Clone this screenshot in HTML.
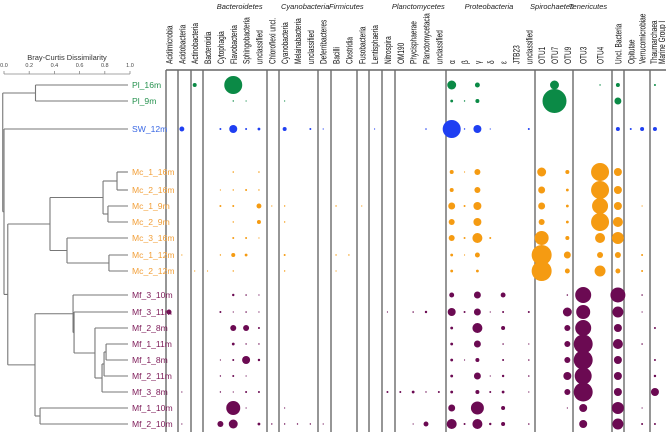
<!DOCTYPE html>
<html><head><meta charset="utf-8">
<style>
html,body{margin:0;padding:0;background:#fff;}
svg{display:block;font-family:"Liberation Sans",sans-serif;}
</style></head>
<body>
<svg id="chart" width="666" height="432" viewBox="0 0 666 432" xmlns="http://www.w3.org/2000/svg"></svg>
<script>
const columns = ["Acidimicrobia","Acidobacteria","Actinobacteria","Bacteroidia","Cytophagia","Flavobacteria","Sphingobacteria","unclassified","Chloroflexi uncl.","Cyanobacteria","Melainabacteria","unclassified","Deferribacteres","Bacilli","Clostridia","Fusobacteria","Lentisphaeria","Nitrospira","OM190","Phycisphaerae","Planctomycetacia","unclassified","α","β","γ","δ","ε","JTB23","unclassified","OTU1","OTU7","OTU9","OTU3","OTU4","Uncl. Bacteria","Opitutae","Verrucomicrobiae","Thaumarchaea"];
const phylumNames = ["Bacteroidetes","Cyanobacteria","Firmicutes","Planctomycetes","Proteobacteria","Spirochaetes","Tenericutes"];
const phylumCenterCol = [5.5,10.6,13.8,19.4,24.9,29.8,32.6];
const samples = ["Pl_16m","Pl_9m","SW_12m","Mc_1_16m","Mc_2_16m","Mc_1_9m","Mc_2_9m","Mc_3_16m","Mc_1_12m","Mc_2_12m","Mf_3_10m","Mf_3_11m","Mf_2_8m","Mf_1_11m","Mf_1_8m","Mf_2_11m","Mf_3_8m","Mf_1_10m","Mf_2_10m"];
const sampleGroup = [0,0,1,2,2,2,2,2,2,2,3,3,3,3,3,3,3,3,3];
const sampleRowY = [85,101,129,172,190,206,222,238,255,271,295,312,328,344,360,376,392,408,424];
const abundance = [
 [[2,4],[5,81],[22,20],[24,6],[30,20],[33,0.5],[34,4],[37,1]],
 [[5,0.5],[6,0.25],[9,0.25],[22,2],[23,0.5],[24,4],[30,144],[34,12]],
 [[1,6],[4,1],[5,16],[6,1],[7,2],[9,4],[11,1],[12,0.25],[16,0.25],[20,0.6],[22,81],[23,0.5],[24,16],[25,0.25],[28,1],[34,4],[35,1],[36,4],[37,4]],
 [[5,0.6],[7,0.6],[22,4],[23,0.2],[24,9],[29,20],[31,4],[33,81],[34,16]],
 [[4,0.25],[5,0.5],[6,1],[7,0.5],[22,4],[24,9],[29,12],[31,2],[33,81],[34,16]],
 [[4,1],[5,1],[7,6],[8,0.25],[9,0.5],[13,0.5],[15,0.25],[22,12],[23,1],[24,16],[29,12],[31,2],[33,64],[34,16],[36,0.3]],
 [[5,0.5],[7,4],[9,0.5],[22,9],[24,16],[29,9],[31,2],[33,81],[34,25]],
 [[5,1],[6,1],[7,0.25],[22,9],[23,1],[24,25],[25,1],[29,49],[31,4],[33,25],[34,36]],
 [[1,0.25],[4,0.5],[5,4],[6,2],[9,1],[13,0.5],[14,0.5],[22,2],[23,0.25],[24,6],[29,100],[31,12],[33,9],[34,9],[36,1]],
 [[2,0.25],[3,0.25],[5,0.5],[9,0.5],[13,0.25],[22,2],[24,2],[29,100],[31,6],[33,30],[34,6],[36,1]],
 [[5,1.5],[6,0.6],[7,0.25],[22,6],[24,12],[26,6],[31,0.6],[32,64],[34,56],[36,0.6]],
 [[0,6],[4,1],[5,0.25],[6,0.6],[7,0.25],[17,0.25],[19,0.6],[20,1.5],[22,16],[23,1],[24,12],[25,0.25],[26,1],[28,1],[31,20],[32,49],[34,30],[36,0.25]],
 [[5,9],[6,9],[7,1],[22,2],[24,25],[26,4],[31,9],[32,64],[34,16],[37,1]],
 [[5,2],[6,0.5],[7,0.5],[22,2],[24,12],[26,0.6],[28,0.25],[31,9],[32,90],[34,25],[36,0.6]],
 [[4,0.25],[5,1],[6,16],[7,1.5],[22,2],[23,0.25],[24,4],[26,1],[28,0.6],[31,9],[32,90],[34,16],[37,1]],
 [[4,0.5],[5,1],[6,0.25],[22,2],[24,12],[25,0.25],[26,1.5],[28,0.6],[31,16],[32,72],[34,16],[37,1.5]],
 [[1,0.25],[4,0.5],[5,0.25],[6,1],[7,1],[17,1],[18,1],[19,2],[20,0.5],[21,1],[22,2],[24,4],[25,1],[26,2],[28,0.25],[31,9],[32,90],[34,16],[37,16]],
 [[5,49],[6,0.25],[9,0.25],[22,12],[24,42],[26,4],[31,0.25],[32,16],[34,36],[36,0.1]],
 [[1,0.25],[4,9],[5,20],[7,2],[8,0.5],[9,0.5],[10,0.5],[11,0.5],[12,0.25],[19,0.25],[20,6],[22,25],[23,1],[24,25],[25,1.5],[26,4],[28,0.6],[32,16],[34,30],[36,1],[37,1]]
];
const treePl = [0,1,0.25];
const treeMc = [[[3,4,0.897],[5,6,0.825],0.786],[7,[8,9,0.833],0.5],0.365];
const treeMf = [[10,[11,[12,[[[13,14,0.81],15,0.794],16,0.778],0.722],0.556],0.548],[17,18,0.286],0.246];
const treeRoot = [treePl,[2,[treeMc,treeMf,0.03],0.0],-0.01];
const axisTicks = [0,0.2,0.4,0.6,0.8,1.0];
const axisTickLabels = ["0.0","0.2","0.4","0.6","0.8","1.0"];

const bubbleColors = ["#0b8a46","#1f3ff2","#f59b12","#6b0a52"];
const labelColors = ["#27924f","#3a68e4","#f2a03a","#7d1a58"];
const svg = document.getElementById('chart');
const NS = "http://www.w3.org/2000/svg";
function mk(tag, attrs, parent){ const e=document.createElementNS(NS,tag); for(const k in attrs) e.setAttribute(k,attrs[k]); (parent||svg).appendChild(e); return e; }
function colX(i){ let x=169+i*12.85; if(i>=32)x+=3; if(i>=33)x+=4; if(i>=34)x+=5; if(i>=36)x-=1.5; return x; }
function dX(d){ return 4+d*126; }
function rScale(v){ return Math.sqrt(v); }

const gridG = mk('g',{});


mk('line',{x1:166,y1:70,x2:666,y2:70,stroke:'#666','stroke-width':1.4},gridG);
[166,178,191,203,267,279,318,331,357,369,382,395,446,535,573,612,624,650].forEach(x=>{
  const l=mk('line',{x1:x,y1:70,x2:x,y2:432,stroke:'#6a6a6a','stroke-width':1.4},gridG);
  
  
});

const LFS = 9;
const LSC = 'scale(0.72,1)';
columns.forEach((c,i)=>{
  const x=colX(i)+3.5;
  if(c==="Thaumarchaea"){
    const t1=mk('text',{x:0,y:0,transform:`translate(${x-1.5},64) rotate(-90) ${LSC}`,'font-size':LFS,fill:'#111'});
    t1.textContent="Thaumarchaea";
    
    
    const t2=mk('text',{x:0,y:0,transform:`translate(${x+6.5},64) rotate(-90) ${LSC}`,'font-size':LFS,fill:'#111'});
    t2.textContent="Marine Group I";
    
    
    return;
  }
  const t=mk('text',{x:0,y:0,transform:`translate(${x},64) rotate(-90) ${LSC}`,'font-size':LFS,fill:'#111'});
  t.textContent=c;
  
  
});

phylumNames.forEach((p,i)=>{
  const cx=169+phylumCenterCol[i]*12.85;
  const t=mk('text',{x:cx,y:9,'font-size':7.5,'font-style':'italic','text-anchor':'middle',fill:'#222'});
  t.textContent=p;
  
  
});

abundance.forEach((row,ri)=>{
  row.forEach(pair=>{
    const ci=pair[0], v=pair[1];
    const c=mk('circle',{cx:colX(ci),cy:sampleRowY[ri],r:Math.max(0.6,rScale(v)),fill:bubbleColors[sampleGroup[ri]]});
    
    
  });
});

samples.forEach((s,i)=>{
  const t=mk('text',{x:132,y:sampleRowY[i]+3,'font-size':8.6,fill:labelColors[sampleGroup[i]]});
  t.textContent=s;
  
  
});

const dg=mk('g',{stroke:'#777','stroke-width':1.1,fill:'none'});


function draw(node){
  if(typeof node==='number'){ return {x:dX(1)-2,y:sampleRowY[node]}; }
  const a=draw(node[0]), b=draw(node[1]); const x=dX(node[2]);
  mk('line',{x1:x,y1:a.y,x2:a.x,y2:a.y},dg);
  mk('line',{x1:x,y1:b.y,x2:b.x,y2:b.y},dg);
  mk('line',{x1:x,y1:a.y,x2:x,y2:b.y},dg);
  return {x:x,y:(a.y+b.y)/2};
}
draw(treeRoot);

const ax=mk('g',{});


mk('line',{x1:dX(0),y1:74,x2:dX(1),y2:74,stroke:'#888','stroke-width':0.8},ax);
axisTicks.forEach((v,i)=>{
  mk('line',{x1:dX(v),y1:71,x2:dX(v),y2:74,stroke:'#888','stroke-width':0.8},ax);
  const t=mk('text',{x:dX(v),y:67,'font-size':5.5,'text-anchor':'middle',fill:'#444'},ax);
  t.textContent=axisTickLabels[i];
  
  
});
const at=mk('text',{x:dX(0.5),y:60,'font-size':7.5,'text-anchor':'middle',fill:'#333'},ax);
at.textContent="Bray-Curtis Dissimilarity";


</script>
</body></html>
